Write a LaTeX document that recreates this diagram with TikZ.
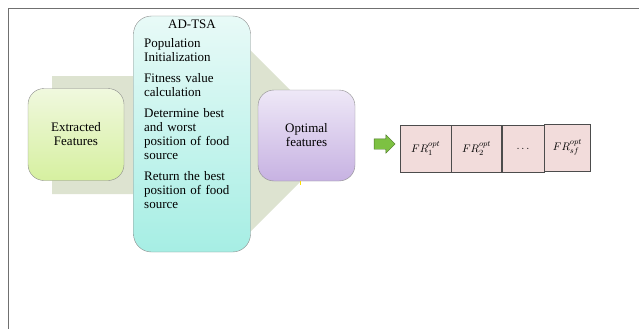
\documentclass[tikz,border=0pt]{standalone}
\usepackage{fontspec}
\setmainfont{Liberation Serif}
\usetikzlibrary{positioning,shapes.arrows}
\definecolor{bgarrow}{HTML}{DDE3D0}
\definecolor{boxline}{HTML}{8C8C8C}
\definecolor{cellfill}{HTML}{F2DCDB}
\definecolor{goarrow}{HTML}{7DC142}
\tikzset{
  stage/.style={draw=boxline,rounded corners=16pt,minimum width=96pt,minimum height=92pt,
    align=center,inner sep=0pt,font=\fontsize{13}{14}\selectfont},
  featcell/.style={draw=black!70,fill=cellfill,minimum height=47pt,inner sep=0pt,
    font=\fontsize{11}{12}\selectfont}
}
\begin{document}
\begin{tikzpicture}[x=1pt,y=-1pt]
\useasboundingbox (0,0) rectangle (639,329);
\draw[boxline!80!black,line width=1pt](639,9)--(8,9)--(8,329);
\fill[bgarrow](52,76)--(250,76)--(250,50)--(341,141)--(250,232)--(250,194)--(52,194)--cycle;
\node[stage,top color={rgb,255:red,240;green,248;blue,222},bottom color={rgb,255:red,214;green,240;blue,160}](ext)at(76,134.5){Extracted\\Features};
\node[stage,minimum width=117pt,minimum height=236pt,rounded corners=18pt,
  top color={rgb,255:red,232;green,250;blue,247},bottom color={rgb,255:red,166;green,238;blue,228}](tsa)at(192,134){};
\node[font=\fontsize{13}{14}\selectfont,inner sep=0pt,anchor=north](tsatitle)at(tsa.north|-0,20){AD-TSA};
\node[font=\fontsize{13}{14}\selectfont,inner sep=0pt,anchor=north west,text width=104pt,align=left](tsasteps)at(144,38){%
Population\\Initialization\\[7pt]
Fitness value\\calculation\\[7pt]
Determine best\\and worst\\position of food\\source\\[7pt]
Return the best\\position of food\\source};
\node[stage,minimum width=97pt,minimum height=91pt,
  top color={rgb,255:red,238;green,232;blue,247},bottom color={rgb,255:red,199;green,178;blue,226}](opt)at(306.5,135.5){Optimal\\features};
\draw[yellow!80!orange,line width=0.8pt](300,181)--(300,185);
\node[single arrow,draw=goarrow!60!black,fill=goarrow,minimum height=21pt,
  single arrow head extend=4pt,inner sep=0pt](go)at(382,144){\rule{0pt}{10pt}};
\node[featcell,minimum width=51pt,anchor=west](fr1)at(400,148.5){$FR_1^{opt}$};
\node[featcell,minimum width=50pt,right=0pt of fr1](fr2){$FR_2^{opt}$};
\node[featcell,minimum width=42pt,right=0pt of fr2](frdots){$\dots$};
\node[featcell,minimum width=46pt,right=0pt of frdots,yshift=1pt](frsf){$FR_{sf}^{opt}$};
\end{tikzpicture}
\end{document}
